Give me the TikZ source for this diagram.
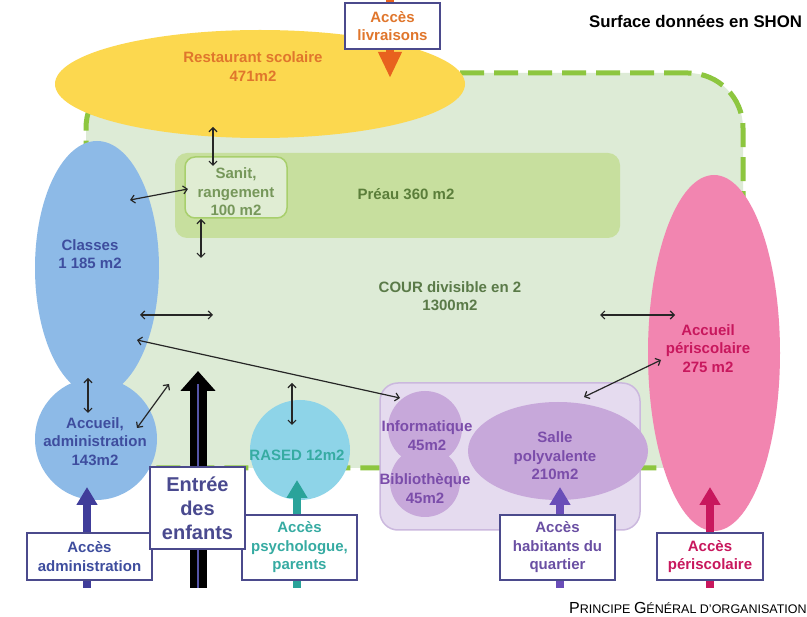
\documentclass[tikz,border=0pt]{standalone}
\usepackage{fontspec}
\setmainfont{Liberation Sans}
\usetikzlibrary{shapes.geometric,arrows.meta}
\definecolor{courfill}{HTML}{DDEBD6}
\definecolor{courdash}{HTML}{8DC63F}
\definecolor{preaufill}{HTML}{C7DF9E}
\definecolor{preautext}{HTML}{5B7E3A}
\definecolor{sanitfill}{HTML}{E0EDD3}
\definecolor{sanitborder}{HTML}{A8CF6C}
\definecolor{sanittext}{HTML}{76975A}
\definecolor{courtext}{HTML}{5A7A48}
\definecolor{yellowfill}{HTML}{FCD84F}
\definecolor{orangetext}{HTML}{E0762C}
\definecolor{orangearrow}{HTML}{E8621E}
\definecolor{boxborder}{HTML}{4B4A8C}
\definecolor{bluefill}{HTML}{8DBAE7}
\definecolor{bluetext}{HTML}{3E4D9E}
\definecolor{adminarrow}{HTML}{403D9A}
\definecolor{rasedfill}{HTML}{8ED4E8}
\definecolor{tealtext}{HTML}{36ABA2}
\definecolor{tealarrow}{HTML}{2AA39A}
\definecolor{purplebox}{HTML}{E5DBEF}
\definecolor{purpleborder}{HTML}{CBB8DE}
\definecolor{purplecircle}{HTML}{C7A8DA}
\definecolor{purpletext}{HTML}{7B4DAA}
\definecolor{habtext}{HTML}{6A4FA3}
\definecolor{habarrow}{HTML}{6A4DB8}
\definecolor{pinkfill}{HTML}{F285B0}
\definecolor{pinktext}{HTML}{C8175D}
\definecolor{entreetext}{HTML}{4A4A8F}
\definecolor{entreeline}{HTML}{5555A8}
\begin{document}
\begin{tikzpicture}[x=1pt,y=-1pt,
  lbl/.style={font=\bfseries\fontsize{15}{18.5}\selectfont, align=center, inner sep=0pt},
  shp/.style={inner sep=0pt, outer sep=0pt},
  accbox/.style={draw=boxborder, line width=1.6pt, fill=white, inner sep=0pt, align=center, font=\bfseries\fontsize{15}{18.5}\selectfont},
  dbl/.style={{Straight Barb[length=4pt,width=8pt]}-{Straight Barb[length=4pt,width=8pt]}, line width=1.2pt, draw=black!85},
  accarrow/.style={line width=8pt, -{Triangle[width=20pt,length=18pt]}},
]
\useasboundingbox (0,0) rectangle (807,617);
\fill[white] (0,0) rectangle (807,617);

% cour
\node[shp, rectangle, rounded corners=55pt, fill=courfill, draw=courdash, line width=5pt,
  dash pattern=on 24pt off 10pt, minimum width=657pt, minimum height=395pt] (cour) at (414.5,270.5) {};
% preau and sanit
\node[shp, rectangle, rounded corners=12pt, fill=preaufill, minimum width=445pt, minimum height=85pt] (preau) at (397.5,195.5) {};
\node[shp, rectangle, rounded corners=10pt, fill=sanitfill, draw=sanitborder, line width=1.5pt, minimum width=102pt, minimum height=61pt] (sanit) at (236,187.5) {};
% restaurant
\node[shp, ellipse, fill=yellowfill, minimum width=410pt, minimum height=108pt] (resto) at (260,84) {};
% livraisons arrow and box
\coordinate (livtop) at (390,-6);
\coordinate (livtip) at (390,78);
\draw[orangearrow, line width=8pt, -{Triangle[width=22pt,length=26pt]}] (livtop) -- (livtip);
\node[accbox, text=orangetext, minimum width=95pt, minimum height=46pt] (livbox) at (392.5,26) {Accès\\livraisons};

% classes and accueil
\node[shp, ellipse, fill=bluefill, minimum width=124pt, minimum height=254pt] (classes) at (97,268) {};
\node[shp, circle, fill=bluefill, minimum size=122pt] (accueil) at (96,439) {};
% RASED
\node[shp, circle, fill=rasedfill, minimum size=100pt] (rased) at (300,450) {};
% purple block
\node[shp, rectangle, rounded corners=18pt, fill=purplebox, draw=purpleborder, line width=1.5pt, minimum width=260pt, minimum height=147pt] (pbox) at (510,456.5) {};
\node[shp, circle, fill=purplecircle, minimum size=74pt] (info) at (425,428) {};
\node[shp, circle, fill=purplecircle, minimum size=70pt] (biblio) at (425,482) {};
\node[shp, ellipse, fill=purplecircle, minimum width=180pt, minimum height=98pt] (salle) at (558,451) {};
% periscolaire
\node[shp, ellipse, fill=pinkfill, minimum width=132pt, minimum height=356pt] (peri) at (714,353) {};

% access arrows
\coordinate (adminbot) at (87,588);
\coordinate (admintip) at (87,487);
\draw[accarrow, adminarrow] (adminbot) -- (admintip);
\coordinate (psybot) at (297,588);
\coordinate (psytip) at (297,480);
\draw[accarrow, tealarrow] (psybot) -- (psytip);
\coordinate (habbot) at (560,588);
\coordinate (habtip) at (560,487);
\draw[accarrow, habarrow] (habbot) -- (habtip);
\coordinate (peribot) at (710,588);
\coordinate (peritip) at (710,487);
\draw[accarrow, pinktext] (peribot) -- (peritip);
% entree arrow
\coordinate (entbot) at (198,588);
\coordinate (enttip) at (198,371);
\coordinate (entline) at (198,384);
\draw[black, line width=17pt, -{Triangle[width=34pt,length=20pt]}] (entbot) -- (enttip);
\draw[entreeline, line width=1.6pt] (entbot) -- (entline);

% boxes
\node[accbox, text=bluetext, minimum width=125pt, minimum height=47pt] (adminbox) at (89.5,556.5) {Accès\\administration};
\node[accbox, text=tealtext, minimum width=115pt, minimum height=65pt] (psybox) at (299.5,547.5) {Accès\\psychologue,\\parents};
\node[accbox, text=habtext, minimum width=115pt, minimum height=65pt] (habbox) at (557.5,547.5) {Accès\\habitants du\\quartier};
\node[accbox, text=pinktext, minimum width=106pt, minimum height=47pt] (peribox) at (710,556.5) {Accès\\périscolaire};
\node[accbox, text=entreetext, minimum width=95pt, minimum height=82pt, font=\bfseries\fontsize{20}{24}\selectfont] (entbox) at (197.5,508) {Entrée\\des\\enfants};

% thin double arrows
\coordinate (a1) at (213,127); \coordinate (b1) at (213,166);
\coordinate (a2) at (130,200); \coordinate (b2) at (188,189);
\coordinate (a3) at (201,219); \coordinate (b3) at (201,258);
\coordinate (a4) at (140,315); \coordinate (b4) at (213,315);
\coordinate (a5) at (137,340); \coordinate (b5) at (400,398);
\coordinate (a6) at (88,378);  \coordinate (b6) at (88,413);
\coordinate (a7) at (137,428); \coordinate (b7) at (169,384);
\coordinate (a8) at (292,383); \coordinate (b8) at (292,425);
\coordinate (a9) at (600,315); \coordinate (b9) at (675,315);
\coordinate (a10) at (584,397); \coordinate (b10) at (661,360);
\foreach \i in {1,...,10} \draw[dbl] (a\i) -- (b\i);

% labels
\node[lbl, text=orangetext] (restolbl) at (253,66.5) {Restaurant scolaire\\471m2};
\node[lbl, text=bluetext] (classeslbl) at (90,254) {Classes\\1 185 m2};
\node[lbl, text=bluetext] (accueillbl) at (95,441.5) {Accueil,\\administration\\143m2};
\node[lbl, text=sanittext] (sanitlbl) at (236,192) {Sanit,\\rangement\\100 m2};
\node[lbl, text=preautext] (preaulbl) at (406,194) {Préau 360 m2};
\node[lbl, text=courtext] (courlbl) at (450,296) {COUR divisible en 2\\1300m2};
\node[lbl, text=tealtext] (rasedlbl) at (297,455) {RASED 12m2};
\node[lbl, text=purpletext] (infolbl) at (427,435.5) {Informatique\\45m2};
\node[lbl, text=purpletext] (bibliolbl) at (425,488.5) {Bibliothèque\\45m2};
\node[lbl, text=purpletext] (sallelbl) at (555,456) {Salle\\polyvalente\\210m2};
\node[lbl, text=pinktext] (perilbl) at (708,348.5) {Accueil\\périscolaire\\275 m2};

\node[anchor=base west, inner sep=0pt, font=\bfseries\fontsize{16.8}{20}\selectfont] (surface) at (589,28) {Surface données en SHON};
\node[anchor=base west, inner sep=0pt] (principe) at (569,614) {\fontsize{16}{18}\selectfont P\fontsize{12.5}{18}\selectfont RINCIPE \fontsize{16}{18}\selectfont G\fontsize{12.5}{18}\selectfont ÉNÉRAL D'ORGANISATION};
\end{tikzpicture}
\end{document}
